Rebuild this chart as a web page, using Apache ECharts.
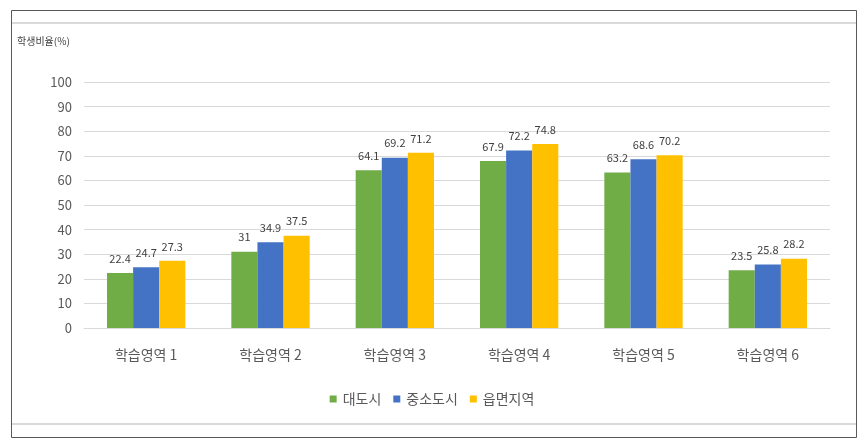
<!DOCTYPE html>
<html><head><meta charset="utf-8">
<script src="https://cdn.jsdelivr.net/npm/echarts@6/dist/echarts.min.js"></script>
<style>html,body{margin:0;padding:0;background:#fff}#c{width:864px;height:445px}</style>
</head><body><div id="c"></div>
<script>
const categories = ['학습영역 1','학습영역 2','학습영역 3','학습영역 4','학습영역 5','학습영역 6'];
const seriesNames = ['대도시','중소도시','읍면지역'];
const bigCity = [22.4, 31, 64.1, 67.9, 63.2, 23.5];
const midCity = [24.7, 34.9, 69.2, 72.2, 68.6, 25.8];
const rural = [27.3, 37.5, 71.2, 74.8, 70.2, 28.2];
const colors = ['#70AD47','#4472C4','#FFC000'];
const font = '"Noto Sans CJK KR", "Noto Sans", sans-serif';
const chart = echarts.init(document.getElementById('c'));
const mk = (name, data, color) => ({
  name, type: 'bar', data, barGap: '0%', barCategoryGap: '37%',
  itemStyle: { color },
  label: { show: true, position: 'top', distance: 9, color: '#404040', fontSize: 11, fontFamily: font }
});
chart.setOption({
  animation: false,
  textStyle: { fontFamily: font },
  graphic: [
    { type: 'rect', shape: { x: 11.5, y: 10.5, width: 845, height: 427 }, style: { fill: 'none', stroke: '#595959', lineWidth: 1 } },
    { type: 'line', shape: { x1: 12, y1: 23, x2: 856, y2: 23 }, style: { stroke: '#d9d9d9', lineWidth: 2 } },
    { type: 'line', shape: { x1: 12, y1: 424, x2: 856, y2: 424 }, style: { stroke: '#d9d9d9', lineWidth: 2 } },
    { type: 'text', left: 17, top: 36, style: { text: '학생비율(%)', fontSize: 10, fill: '#404040', fontFamily: font } }
  ],
  grid: { left: 84, right: 34, top: 82, bottom: 117 },
  legend: {
    data: seriesNames, bottom: 34, left: 'center', itemWidth: 7, itemHeight: 7, itemGap: 12,
    icon: 'rect', textStyle: { fontSize: 14, color: '#595959', fontFamily: font, padding: [0,0,0,1] }
  },
  xAxis: {
    type: 'category', data: categories,
    axisLine: { lineStyle: { color: '#d9d9d9', width: 1 } },
    axisTick: { show: false },
    axisLabel: { color: '#595959', fontSize: 14, margin: 20, fontFamily: font }
  },
  yAxis: {
    type: 'value', min: 0, max: 100, interval: 10,
    axisLine: { show: false }, axisTick: { show: false },
    splitLine: { lineStyle: { color: '#d9d9d9', width: 1 } },
    axisLabel: { color: '#595959', fontSize: 13, margin: 12, fontFamily: font }
  },
  series: [mk(seriesNames[0], bigCity, colors[0]), mk(seriesNames[1], midCity, colors[1]), mk(seriesNames[2], rural, colors[2])]
});
</script></body></html>
